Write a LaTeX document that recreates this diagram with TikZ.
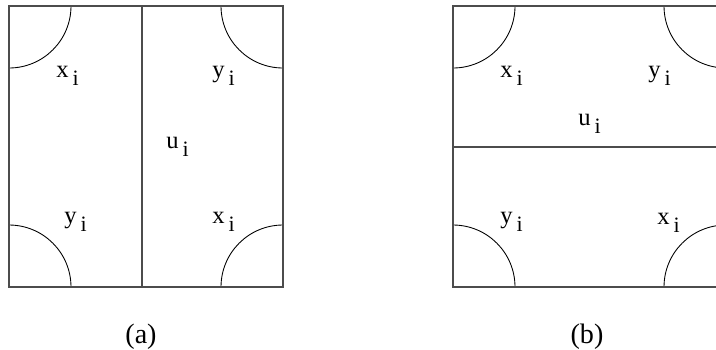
\documentclass[tikz,border=0pt]{standalone}
\usepackage{fontspec}
\setmainfont{Liberation Serif}
\usetikzlibrary{positioning}
\newcommand{\isub}{\kern2.2pt\raisebox{-4.6pt}{\fontsize{12.5}{14}\selectfont i}}

\begin{document}
\begin{tikzpicture}[x=0.02cm, y=-0.02cm,
    box/.style={line width=0.8pt, black!70},
    corner/.style={line width=0.5pt},
    lbl/.style={anchor=base west, inner sep=0pt, font=\fontsize{14}{16}\selectfont},
    captext/.style={anchor=base, inner sep=0pt, font=\fontsize{16}{18}\selectfont}]
    \useasboundingbox (0,0) rectangle (716,349);

    % square (a), split down the middle
    \begin{scope}
        \clip (9,6) rectangle (283,287);
        \foreach \c in {(9,6),(283,6),(9,287),(283,287)}
            \draw[corner] \c circle[radius=62];
    \end{scope}
    \draw[box] (9,6) rectangle (283,287);
    \draw[box] (142,6) -- (142,287);

    \node[lbl] (ax1) at (56,77) {x\isub};
    \node[lbl] (ay1) at (212,77) {y\isub};
    \node[lbl] (au) at (166,148) {u\isub};
    \node[lbl] (ay2) at (64,223) {y\isub};
    \node[lbl] (ax2) at (212,223) {x\isub};
    \node[captext] (capa) at (141,343) {(a)};

    % square (b), split across, cut at the right
    \begin{scope}
        \clip (453,6) rectangle (716,287);
        \foreach \c in {(453,6),(726,6),(453,287),(726,287)}
            \draw[corner] \c circle[radius=62];
    \end{scope}
    \begin{scope}
        \clip (449,2) rectangle (716,291);
        \draw[box] (453,6) rectangle (726,287);
        \draw[box] (453,147) -- (726,147);
    \end{scope}

    \node[lbl] (bx1) at (500,77) {x\isub};
    \node[lbl] (by1) at (648,77) {y\isub};
    \node[lbl] (bu) at (578,125) {u\isub};
    \node[lbl] (by2) at (500,223) {y\isub};
    \node[lbl] (bx2) at (657,224) {x\isub};
    \node[captext] (capb) at (587,343) {(b)};
\end{tikzpicture}
\end{document}
